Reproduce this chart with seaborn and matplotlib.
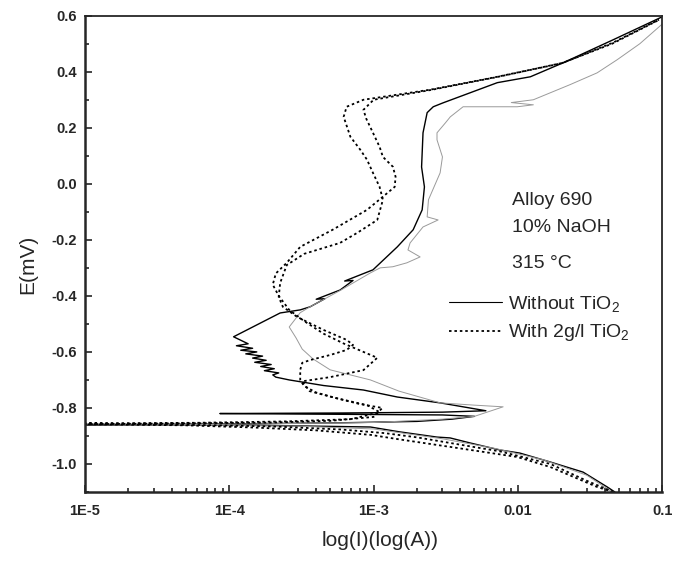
import pandas as pd
import matplotlib
matplotlib.use("Agg")
import matplotlib.pyplot as plt
import seaborn as sns
from matplotlib.ticker import FixedLocator, LogLocator, AutoMinorLocator, NullFormatter
from matplotlib.lines import Line2D

# === data (current in A, potential E) ===
# without TiO2, first (dark) scan
s1_i = [0.047, 0.0416, 0.0283, 0.0168, 0.0103, 7.5e-3, 4.67e-3, 3.39e-3, 2.75e-3, 1.5e-3,
        9.5e-4, 4e-4, 1.5e-4, 5e-5, 1e-5,
        1e-4, 6e-4, 2e-3, 3.5e-3, 5e-3, 3e-3, 8.6e-5, 6e-4, 3e-3, 6e-3,
        2.9e-3, 1.46e-3, 8.5e-4, 4.5e-4, 2.6e-4, 2.1e-4,
        2.0e-4, 2.2e-4, 1.75e-4, 2.05e-4, 1.65e-4, 1.95e-4, 1.5e-4, 1.8e-4, 1.45e-4, 1.7e-4,
        1.3e-4, 1.55e-4, 1.2e-4, 1.45e-4, 1.12e-4, 1.35e-4, 1.07e-4,
        2.25e-4, 3.1e-4, 3.63e-4, 4.6e-4, 4.0e-4, 5.86e-4, 7.2e-4, 6.3e-4, 9.9e-4, 1.46e-3,
        1.88e-3, 2.17e-3, 2.25e-3, 2.15e-3, 2.2e-3, 2.35e-3, 2.59e-3, 3.03e-3, 7.2e-3,
        0.0122, 0.0206, 0.0457, 0.1]
s1_e = [-1.1, -1.082, -1.029, -0.993, -0.961, -0.95, -0.925, -0.907, -0.904, -0.885,
        -0.868, -0.865, -0.862, -0.861, -0.86,
        -0.857, -0.853, -0.848, -0.84, -0.83, -0.825, -0.82, -0.818, -0.815, -0.81,
        -0.782, -0.761, -0.736, -0.72, -0.70, -0.69,
        -0.682, -0.675, -0.667, -0.66, -0.652, -0.645, -0.637, -0.63, -0.622, -0.615,
        -0.607, -0.60, -0.594, -0.587, -0.578, -0.571, -0.546,
        -0.461, -0.45, -0.439, -0.41, -0.412, -0.379, -0.345, -0.347, -0.307, -0.225,
        -0.164, -0.093, -0.011, 0.06, 0.182, 0.254, 0.275, 0.289, 0.361,
        0.382, 0.432, 0.514, 0.596]

# without TiO2, second (light) scan
s2_i = [0.045, 0.03, 0.015, 7e-3, 3e-3, 1e-3, 3e-4, 1e-4, 1e-5,
        1e-4, 1e-3, 3e-3, 5e-3, 7.9e-3, 5e-3, 2.9e-3, 1.5e-3, 9.5e-4, 5e-4, 3.8e-4,
        3.2e-4, 2.9e-4, 2.6e-4, 3.1e-4, 3.6e-4, 5.9e-4, 9.5e-4, 1.11e-3, 1.36e-3,
        1.7e-3, 2.1e-3, 1.73e-3, 1.79e-3, 2.2e-3, 2.8e-3, 2.35e-3, 2.4e-3, 2.89e-3,
        3.0e-3, 2.75e-3, 2.75e-3, 3.15e-3, 3.4e-3, 4.17e-3, 7.2e-3, 9.9e-3, 0.0128,
        9e-3, 0.0128, 0.023, 0.0354, 0.0488, 0.07, 0.1]
s2_e = [-1.1, -1.04, -0.985, -0.945, -0.91, -0.875, -0.865, -0.862, -0.86,
        -0.858, -0.852, -0.84, -0.83, -0.796, -0.79, -0.782, -0.74, -0.70, -0.664, -0.625,
        -0.59, -0.55, -0.511, -0.46, -0.44, -0.38, -0.318, -0.30, -0.296,
        -0.282, -0.261, -0.236, -0.211, -0.154, -0.129, -0.118, -0.057, 0.039,
        0.096, 0.157, 0.182, 0.218, 0.239, 0.275, 0.275, 0.275, 0.282,
        0.29, 0.30, 0.354, 0.396, 0.443, 0.50, 0.57]

# with 2g/l TiO2, first scan (corner at the top)
d1_i = [0.0457, 0.0354, 0.0168, 9.9e-3, 3.39e-3, 1.5e-3, 9.5e-4, 4e-4, 1.5e-4, 5e-5, 1e-5,
        5e-5, 2e-4, 5e-4, 1e-3, 1.15e-3, 8e-4, 5.5e-4, 4e-4, 3.3e-4, 3.1e-4,
        3.1e-4, 3.2e-4, 3.63e-4, 5e-4, 6.5e-4, 7.2e-4, 6.5e-4, 4.47e-4, 2.95e-4,
        2.35e-4, 2.2e-4, 2.25e-4, 2.5e-4, 3.3e-4, 5.85e-4, 7.7e-4, 1.06e-3, 1.16e-3,
        1.1e-3, 9.9e-4, 9e-4, 8.1e-4, 6.9e-4, 6.2e-4, 6.5e-4, 8.5e-4, 2.47e-3, 7.2e-3,
        0.0206, 0.0457, 0.095]
d1_e = [-1.1, -1.082, -1.011, -0.975, -0.939, -0.912, -0.896, -0.88, -0.87, -0.862, -0.858,
        -0.855, -0.852, -0.846, -0.832, -0.80, -0.786, -0.765, -0.745, -0.722, -0.70,
        -0.664, -0.639, -0.629, -0.611, -0.593, -0.575, -0.557, -0.521, -0.475,
        -0.439, -0.404, -0.354, -0.29, -0.25, -0.211, -0.175, -0.129, -0.057,
        -0.011, 0.039, 0.086, 0.121, 0.168, 0.239, 0.275, 0.30, 0.336, 0.382,
        0.432, 0.504, 0.586]

# with 2g/l TiO2, second scan (bump near 1E-3)
d2_i = [0.046, 0.03, 0.0168, 7.5e-3, 3.39e-3, 2e-3, 1.2e-3, 6e-4, 2e-4, 5e-5, 1e-5,
        6e-5, 2.5e-4, 7e-4, 1.1e-3, 9e-4, 5.5e-4, 3.6e-4, 3.2e-4, 5e-4, 8.5e-4,
        1.06e-3, 8.5e-4, 6.2e-4, 4.5e-4, 3.3e-4, 2.6e-4, 2.2e-4, 2.0e-4, 2.1e-4,
        2.5e-4, 3.1e-4, 5.2e-4, 9e-4, 1.16e-3, 1.4e-3, 1.42e-3, 1.36e-3, 1.16e-3,
        1.1e-3, 9.9e-4, 8.9e-4, 8.5e-4, 1.0e-3, 2.5e-3, 7e-3, 0.02, 0.045, 0.095]
d2_e = [-1.1, -1.06, -1.0, -0.955, -0.925, -0.905, -0.89, -0.877, -0.866, -0.86, -0.855,
        -0.853, -0.848, -0.84, -0.815, -0.79, -0.765, -0.74, -0.705, -0.69, -0.665,
        -0.621, -0.60, -0.57, -0.535, -0.49, -0.45, -0.40, -0.36, -0.32,
        -0.282, -0.225, -0.164, -0.093, -0.046, -0.011, 0.025, 0.061, 0.096,
        0.132, 0.182, 0.232, 0.264, 0.30, 0.335, 0.38, 0.43, 0.50, 0.585]

x_ticks = [1e-5, 1e-4, 1e-3, 1e-2, 1e-1]
x_labels = ["1E-5", "1E-4", "1E-3", "0.01", "0.1"]
y_ticks = [-1.0, -0.8, -0.6, -0.4, -0.2, 0.0, 0.2, 0.4, 0.6]
y_labels = ["-1.0", "-0.8", "-0.6", "-0.4", "-0.2", "0.0", "0.2", "0.4", "0.6"]
legend_labels = ["Without TiO$_2$", "With 2g/l TiO$_2$"]
notes = ["Alloy 690", "10% NaOH", "315 °C"]

# === style ===
sns.set_style("ticks")
plt.rcParams["font.family"] = ["Liberation Sans", "DejaVu Sans"]
plt.rcParams["mathtext.fontset"] = "custom"
plt.rcParams["mathtext.rm"] = "Liberation Sans"
plt.rcParams["mathtext.default"] = "regular"

fig = plt.figure(figsize=(6.75, 5.61), dpi=100)
ax = fig.add_axes([0.126, 0.123, 0.855, 0.849])

dot = (0, (1.4, 1.6))
curves = [
    (s1_i, s1_e, dict(color="black", lw=1.0, linestyle="-")),
    (s2_i, s2_e, dict(color="#9a9a9a", lw=0.7, linestyle="-")),
    (d1_i, d1_e, dict(color="black", lw=1.3, linestyle=dot)),
    (d2_i, d2_e, dict(color="black", lw=1.3, linestyle=dot)),
]
for xi, ye, kw in curves:
    df = pd.DataFrame({"I": xi, "E": ye})
    sns.lineplot(data=df, x="I", y="E", sort=False, estimator=None, ax=ax, **kw)

ax.set_xscale("log")
ax.set_xlim(1e-5, 0.1)
ax.set_ylim(-1.1, 0.6)

ax.xaxis.set_major_locator(FixedLocator(x_ticks))
ax.set_xticklabels(x_labels)
ax.xaxis.set_minor_locator(LogLocator(base=10, subs=range(2, 10)))
ax.xaxis.set_minor_formatter(NullFormatter())
ax.set_yticks(y_ticks)
ax.set_yticklabels(y_labels)
ax.yaxis.set_minor_locator(AutoMinorLocator(2))

ax.tick_params(which="both", direction="in", top=False, right=False, width=1.2)
ax.tick_params(which="major", length=5, labelsize=10.5)
ax.tick_params(axis="x", which="major", pad=9)
ax.tick_params(axis="y", which="major", pad=6)
ax.tick_params(which="minor", length=3)
for lab in ax.get_xticklabels() + ax.get_yticklabels():
    lab.set_fontweight("bold")

for side in ["left", "bottom"]:
    ax.spines[side].set_linewidth(1.8)
for side in ["top", "right"]:
    ax.spines[side].set_linewidth(1.3)

ax.set_xlabel("log(I)(log(A))", fontsize=15)
ax.set_ylabel("E(mV)", fontsize=15)
ax.xaxis.set_label_coords(0.511, -0.082)
ax.yaxis.set_label_coords(-0.083, 0.477)

# annotations
ax.text(0.74, 0.613, notes[0], transform=ax.transAxes, fontsize=14, va="center")
ax.text(0.74, 0.555, notes[1], transform=ax.transAxes, fontsize=14, va="center")
ax.text(0.74, 0.48, notes[2], transform=ax.transAxes, fontsize=14, va="center")

handles = [Line2D([], [], color="black", lw=0.8),
           Line2D([], [], color="black", lw=1.3, linestyle=dot)]
ax.legend(handles, legend_labels, loc="upper left", bbox_to_anchor=(0.618, 0.433),
          frameon=False, fontsize=14, handlelength=2.7, handletextpad=0.3,
          labelspacing=0.46, borderaxespad=0)

plt.savefig("out.png", dpi=100)
